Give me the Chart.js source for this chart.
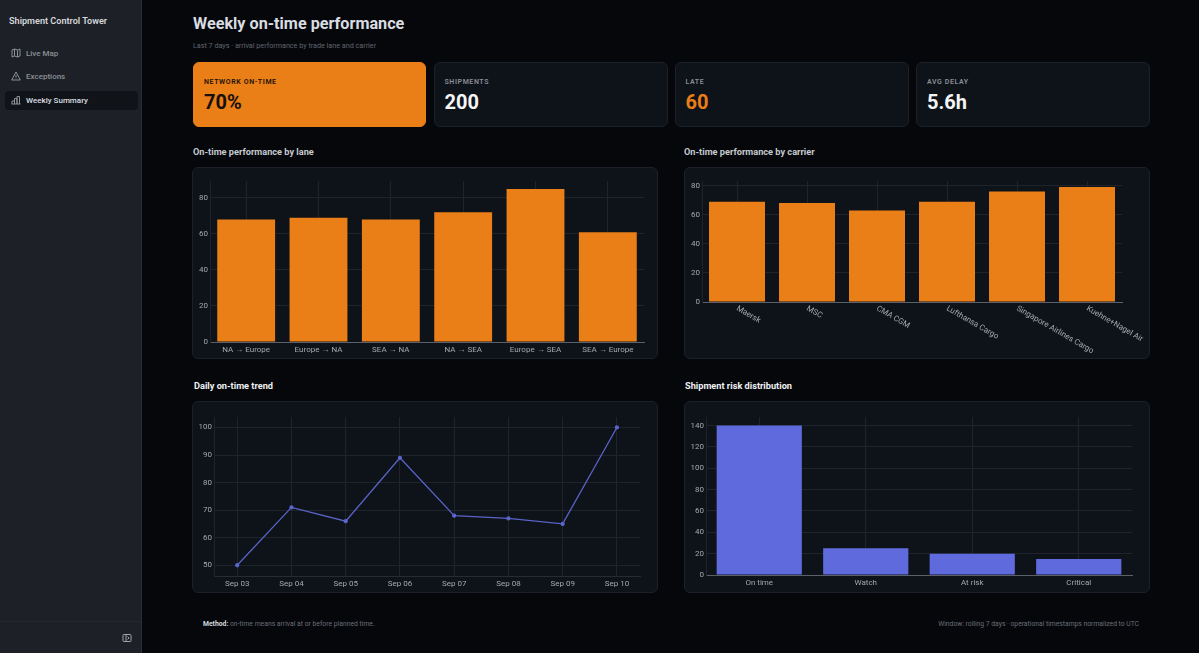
<!DOCTYPE html>
<html>
<head>
<meta charset="utf-8">
<title>Weekly on-time performance</title>
<script src="https://cdn.jsdelivr.net/npm/chart.js@4"></script>
<style>
  * { box-sizing: border-box; }
  html, body { margin: 0; width: 1199px; height: 653px; overflow: hidden; background: #05070b; font-family: Roboto, "Noto Sans", sans-serif; }
  .abs { position: absolute; white-space: nowrap; }
  #sidebar { position: absolute; left: 0; top: 0; width: 142px; height: 653px; background: #1d2026; border-right: 1px solid #2a2d33; }
  #sidefoot { position: absolute; left: 0; top: 621px; width: 141px; height: 1px; background: #24272d; }
  .nav { position: absolute; left: 26px; font-size: 8px; font-weight: 500; color: #8b8f96; }
  .nav.on { color: #dcdfe4; }
  #active { position: absolute; left: 5px; top: 91px; width: 133px; height: 19px; background: #101318; border-radius: 4px; }
  .ico { position: absolute; left: 11px; width: 10px; height: 10px; fill: none; stroke: #8b8f96; stroke-width: 1; }
  .kpi { position: absolute; top: 62px; width: 234px; height: 65px; background: #0e1219; border: 1px solid #1b2029; border-radius: 6px; }
  .kpi .lab { position: absolute; left: 10px; top: 14.500px; font-size: 7px; font-weight: 600; letter-spacing: 0.6px; color: #8a8e96; }
  .kpi .val { position: absolute; left: 10px; top: 27px; font-size: 20px; font-weight: 700; color: #f4f5f7; }
  .card { position: absolute; width: 466px; height: 192px; background: #0e1219; border: 1px solid #1b2029; border-radius: 6px; }
  .card canvas { position: absolute; left: -1px; top: -1px; }
  .head { font-size: 9.2px; font-weight: 700; }
</style>
</head>
<body>
<div id="sidebar">
  <div class="abs" style="left:9px;top:16px;font-size:9.100px;font-weight:600;color:#d5d8dd">Shipment Control Tower</div>
  <div id="active"></div>
  <svg class="ico" style="top:48px" viewBox="0 0 10 10"><path d="M1 2v7l2.500-1 3 1 2.500-1V1L6.500 2 3.500 1z M3.500 1v7 M6.500 2v7"/></svg>
  <div class="nav" style="top:48.500px">Live Map</div>
  <svg class="ico" style="top:71px" viewBox="0 0 10 10"><path d="M5 1l4.300 8H.7z M5 4v2.500 M5 7.500v.5"/></svg>
  <div class="nav" style="top:71.500px">Exceptions</div>
  <svg class="ico" style="top:95px" viewBox="0 0 10 10"><path d="M1 9V6h2.500v3 M3.500 9V3.500H6V9 M6 9V1.500h2.500V9 M.5 9h9"/></svg>
  <div class="nav on" style="top:95.500px">Weekly Summary</div>
  <div id="sidefoot"></div>
  <svg class="ico" style="left:122px;top:633px;stroke:#a0a4aa" viewBox="0 0 10 10"><rect x="1" y="1.500" width="8" height="7" rx="1"/><path d="M4 1.500v7 M5.500 3.500L7 5 5.500 6.500"/></svg>
</div>

<div class="abs" style="left:193px;top:14px;font-size:16.200px;font-weight:700;color:#d9dce1">Weekly on-time performance</div>
<div class="abs" style="left:193px;top:41px;font-size:7.200px;color:#62666e">Last 7 days · arrival performance by trade lane and carrier</div>

<div class="kpi" style="left:193px;width:233px;background:#ea7e17;border-color:#ea7e17"><div class="lab" style="color:#1c1206">NETWORK ON-TIME</div><div class="val" style="color:#17100a">70%</div></div>
<div class="kpi" style="left:433.500px"><div class="lab">SHIPMENTS</div><div class="val">200</div></div>
<div class="kpi" style="left:674.500px"><div class="lab">LATE</div><div class="val" style="color:#ea7e17">60</div></div>
<div class="kpi" style="left:916px"><div class="lab">AVG DELAY</div><div class="val">5.6h</div></div>

<div class="abs head" style="left:193px;top:146px;color:#c6c9ce">On-time performance by lane</div>
<div class="abs head" style="left:684px;top:146px;color:#c6c9ce">On-time performance by carrier</div>
<div class="abs head" style="left:194px;top:380px;color:#f0f1f3">Daily on-time trend</div>
<div class="abs head" style="left:685px;top:380px;color:#f0f1f3">Shipment risk distribution</div>

<div class="card" style="left:192px;top:167px"><canvas id="laneChart" width="466" height="192"></canvas></div>
<div class="card" style="left:684px;top:167px"><canvas id="carrierChart" width="466" height="192"></canvas></div>
<div class="card" style="left:192px;top:401px"><canvas id="trendChart" width="466" height="192"></canvas></div>
<div class="card" style="left:684px;top:401px"><canvas id="riskChart" width="466" height="192"></canvas></div>

<div class="abs" style="left:203px;top:620px;font-size:6.800px;color:#6a6e76"><b style="color:#d5d8dd">Method:</b> on-time means arrival at or before planned time.</div>
<div class="abs" style="right:60px;top:620px;font-size:6.750px;color:#6a6e76">Window: rolling 7 days · operational timestamps normalized to UTC</div>

<script>
const laneLabels = ["NA → Europe", "Europe → NA", "SEA → NA", "NA → SEA", "Europe → SEA", "SEA → Europe"];
const laneValues = [68, 69, 68, 72, 85, 61];

const carrierLabels = ["Maersk", "MSC", "CMA CGM", "Lufthansa Cargo", "Singapore Airlines Cargo", "Kuehne+Nagel Air"];
const carrierValues = [69, 68, 63, 69, 76, 79];

const trendDays = ["Sep 03", "Sep 04", "Sep 05", "Sep 06", "Sep 07", "Sep 08", "Sep 09", "Sep 10"];
const trendValues = [50, 71, 66, 89, 68, 67, 65, 100];

const riskLabels = ["On time", "Watch", "At risk", "Critical"];
const riskValues = [140, 25, 20, 15];

const ORANGE = "#ea7e17";
const INDIGO = "#5f6bdc";
const GRID = "#1e232c";
const TICK = "#a5a8ae";
const TICK_FONT = { family: "Roboto", size: 8 };

Chart.defaults.animation = false;
Chart.defaults.responsive = false;

// plotly style slanted labels, they start at the tick and run down to the right
const slantedTicks = {
  id: "slantedTicks",
  afterDraw(chart) {
    const scale = chart.scales.x;
    const ctx = chart.ctx;
    ctx.save();
    ctx.font = "8px Roboto";
    ctx.fillStyle = TICK;
    ctx.textAlign = "left";
    ctx.textBaseline = "middle";
    scale.getLabels().forEach((label, i) => {
      ctx.save();
      ctx.translate(scale.getPixelForTick(i), chart.chartArea.bottom + 6);
      ctx.rotate((30 * Math.PI) / 180);
      ctx.fillText(label, 0, 0);
      ctx.restore();
    });
    ctx.restore();
  },
};

// box = plot area inside the card: left, right, top, bottom in px
const buildOptions = (box, xAxis, yAxis, axisColor) => ({
  maintainAspectRatio: false,
  layout: { padding: { left: 0, top: box.top, right: 466 - box.right, bottom: 0 } },
  plugins: { legend: { display: false }, tooltip: { enabled: false } },
  scales: {
    x: {
      grid: { color: GRID, drawTicks: false, offset: false },
      border: { color: axisColor, width: 1 },
      ticks: { color: TICK, font: TICK_FONT, padding: 3, maxRotation: 0, autoSkip: false },
      afterFit: (scale) => { scale.height = 192 - box.bottom; },
      ...xAxis,
    },
    y: {
      grid: { color: GRID, drawTicks: false },
      border: { color: GRID, width: 1 },
      afterFit: (scale) => { scale.width = box.left; },
      ...yAxis,
    },
  },
});

const yRange = (min, max, stepSize) => ({
  min,
  max,
  ticks: { color: TICK, font: TICK_FONT, padding: 2, includeBounds: false, stepSize },
});

new Chart(document.getElementById("laneChart"), {
  type: "bar",
  data: {
    labels: laneLabels,
    datasets: [{ data: laneValues, backgroundColor: ORANGE, categoryPercentage: 1, barPercentage: 0.8 }],
  },
  options: buildOptions({ left: 18, right: 452, top: 14, bottom: 175 }, {}, yRange(0, 89.4, 20), "#5c6068"),
});

new Chart(document.getElementById("carrierChart"), {
  type: "bar",
  data: {
    labels: carrierLabels,
    datasets: [{ data: carrierValues, backgroundColor: ORANGE, categoryPercentage: 1, barPercentage: 0.8 }],
  },
  options: buildOptions(
    { left: 18, right: 438, top: 14, bottom: 135 },
    { ticks: { display: false } },
    yRange(0, 83.2, 20),
    "#5c6068"
  ),
  plugins: [slantedTicks],
});

new Chart(document.getElementById("trendChart"), {
  type: "line",
  data: {
    datasets: [{
      data: trendValues.map((y, x) => ({ x, y })),
      borderColor: "#5a64c8",
      backgroundColor: "#5f6bdc",
      borderWidth: 1.3,
      pointRadius: 1.5,
      tension: 0,
    }],
  },
  options: buildOptions(
    { left: 22, right: 448, top: 16, bottom: 175 },
    {
      type: "linear",
      min: -0.428,
      max: 7.426,
      ticks: {
        color: TICK,
        font: TICK_FONT,
        padding: 3,
        maxRotation: 0,
        autoSkip: false,
        stepSize: 1,
        includeBounds: false,
        callback: (value) => trendDays[value],
      },
    },
    yRange(46.1, 103.8, 10),
    "#262b35"
  ),
});

new Chart(document.getElementById("riskChart"), {
  type: "bar",
  data: {
    labels: riskLabels,
    datasets: [{ data: riskValues, backgroundColor: INDIGO, categoryPercentage: 1, barPercentage: 0.8 }],
  },
  options: buildOptions({ left: 22, right: 448, top: 16, bottom: 174 }, {}, yRange(0, 148, 20), "#5c6068"),
});
</script>
</body>
</html>
